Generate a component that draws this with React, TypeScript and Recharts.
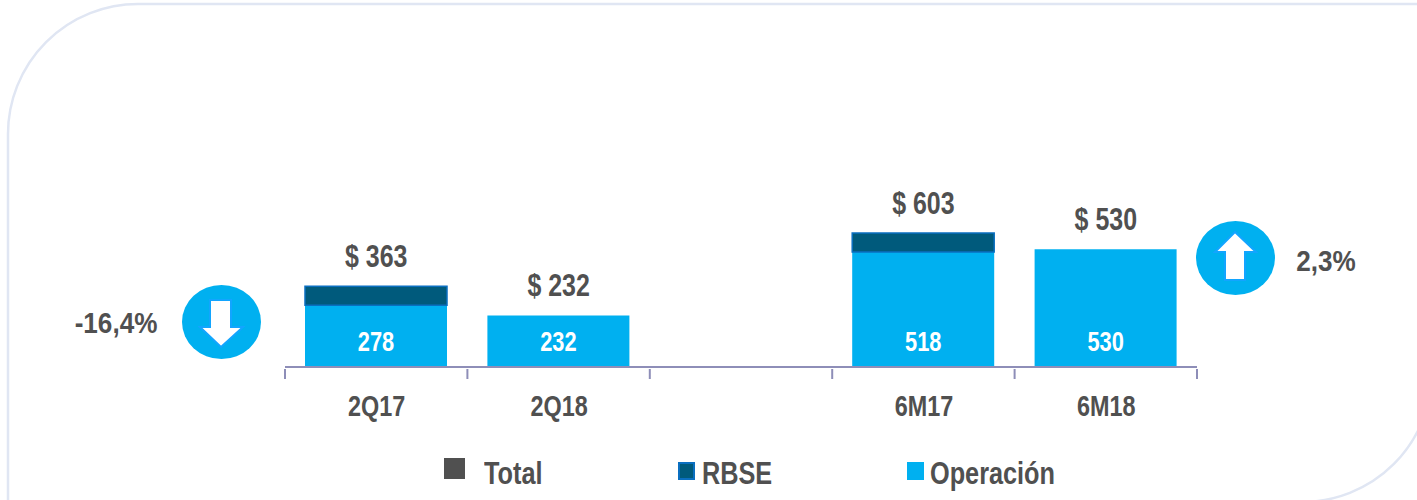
import { ComposedChart, Bar, Line, XAxis, YAxis, LabelList, Legend } from 'recharts';

const categories = ['2Q17', '2Q18', '', '6M17', '6M18'];
const operacion = [278, 232, null, 518, 530];
const rbse = [85, null, null, 85, null];
const total = [363, 232, null, 603, 530];

const data = categories.map((name, i) => ({
  name,
  operacion: operacion[i],
  rbse: rbse[i],
  total: total[i],
}));

// no narrow face installed, so the Liberation Sans glyphs get squeezed sideways
const FONT = '"Liberation Sans", sans-serif';
const GREY = '#505050';
const BLUE = '#00b0f0';
const DARK = '#005a7c';
const AXIS = '#8e8eb8';
const BAND = 182.4;

const NarrowText = ({ x, y, size, squeeze = 0.78, fill = GREY, anchor = 'middle', children }: any) => (
  <text
    transform={`translate(${x},${y}) scale(${squeeze},1)`}
    textAnchor={anchor}
    fill={fill}
    fontFamily={FONT}
    fontWeight={700}
    fontSize={size}
  >
    {children}
  </text>
);

const AxisTick = ({ x, y, payload, index }: any) => (
  <g>
    <line x1={x - BAND / 2} x2={x - BAND / 2} y1={y - 10} y2={y} stroke={AXIS} strokeWidth={2} />
    {index === categories.length - 1 && (
      <line x1={x + BAND / 2} x2={x + BAND / 2} y1={y - 10} y2={y} stroke={AXIS} strokeWidth={2} />
    )}
    <NarrowText x={x + 0.5} y={y + 37} size={30}>
      {payload.value}
    </NarrowText>
  </g>
);

// bar value inside the blue block, sits on a fixed distance above the axis
const InsideLabel = ({ x, y, width, height, value }: any) =>
  value == null ? null : (
    <NarrowText x={x + width / 2} y={y + height - 16} size={28} fill="#fff">
      {value}
    </NarrowText>
  );

const TotalLabel = ({ x, y, value }: any) =>
  value == null ? null : (
    <NarrowText x={x} y={y - 19} size={32}>
      {`$ ${value}`}
    </NarrowText>
  );

const legendItems = [
  { label: 'Total', fill: GREY, stroke: GREY, x: 444, y: 458, w: 21, h: 21, textX: 484 },
  { label: 'RBSE', fill: DARK, stroke: '#0a6fc0', x: 678, y: 462, w: 17, h: 18, textX: 702 },
  { label: 'Operación', fill: BLUE, stroke: BLUE, x: 907, y: 462, w: 17, h: 18, textX: 930 },
];

const ChartLegend = () => (
  <div style={{ position: 'relative', width: 0, height: 0 }}>
    {legendItems.map((item) => (
      <div key={item.label}>
        <div
          style={{
            position: 'absolute',
            left: item.x,
            top: item.y,
            width: item.w,
            height: item.h,
            boxSizing: 'border-box',
            background: item.fill,
            border: `2px solid ${item.stroke}`,
          }}
        />
        <div
          style={{
            position: 'absolute',
            left: item.textX,
            top: 457,
            lineHeight: '34px',
            fontFamily: FONT,
            fontWeight: 700,
            fontSize: 31,
            color: GREY,
            whiteSpace: 'nowrap',
            transform: 'scaleX(0.815)',
            transformOrigin: 'left center',
          }}
        >
          {item.label}
        </div>
      </div>
    ))}
  </div>
);

export default function App() {
  return (
    <div style={{ position: 'absolute', left: 0, top: 0, width: 1417, height: 500, overflow: 'hidden', background: '#fff' }}>
      <svg width={1417} height={500} style={{ position: 'absolute', left: 0, top: 0 }}>
        <path
          d="M8,510 V134 A130,130 0 0 1 138,4 H1432 V372 A130,130 0 0 1 1302,502 H8"
          fill="none"
          stroke="#e0e6f3"
          strokeWidth={2.5}
        />
      </svg>
      <ComposedChart
        width={1417}
        height={500}
        data={data}
        barCategoryGap={20}
        margin={{ top: 211.5, right: 220, bottom: 0, left: 285 }}
        style={{ position: 'absolute', left: 0, top: 0 }}
      >
        <XAxis
          dataKey="name"
          interval={0}
          height={133}
          axisLine={{ stroke: AXIS, strokeWidth: 2 }}
          tickLine={false}
          tick={<AxisTick />}
          tickSize={10}
        />
        <YAxis hide domain={[0, 700]} />
        <Legend content={<ChartLegend />} wrapperStyle={{ left: 0, top: 0, width: 0, height: 0 }} />
        <Bar dataKey="operacion" stackId="a" fill={BLUE} isAnimationActive={false}>
          <LabelList dataKey="operacion" content={<InsideLabel />} />
        </Bar>
        <Bar dataKey="rbse" stackId="a" fill={DARK} stroke="#0a6fc0" strokeWidth={1.5} isAnimationActive={false} />
        <Line dataKey="total" stroke="none" dot={false} isAnimationActive={false} legendType="none">
          <LabelList dataKey="total" content={<TotalLabel />} />
        </Line>
      </ComposedChart>
      <svg width={1417} height={500} style={{ position: 'absolute', left: 0, top: 0, pointerEvents: 'none' }}>
        <ellipse cx={221.5} cy={322} rx={39.5} ry={37} fill={BLUE} />
        <path d="M210,300 H231 V327 H243 L221,347 L200,327 H210 Z" fill="#fff" stroke="#12a5ff" strokeWidth={2} />
        <ellipse cx={1235.5} cy={258} rx={39.5} ry={37} fill={BLUE} />
        <path d="M1225,280 H1245 V252 H1256 L1235,232 L1215,252 H1225 Z" fill="#fff" stroke="#12a5ff" strokeWidth={2} />
        <NarrowText x={116} y={333} size={30} squeeze={0.87}>
          -16,4%
        </NarrowText>
        <NarrowText x={1326} y={271} size={30} squeeze={0.87}>
          2,3%
        </NarrowText>
      </svg>
    </div>
  );
}
